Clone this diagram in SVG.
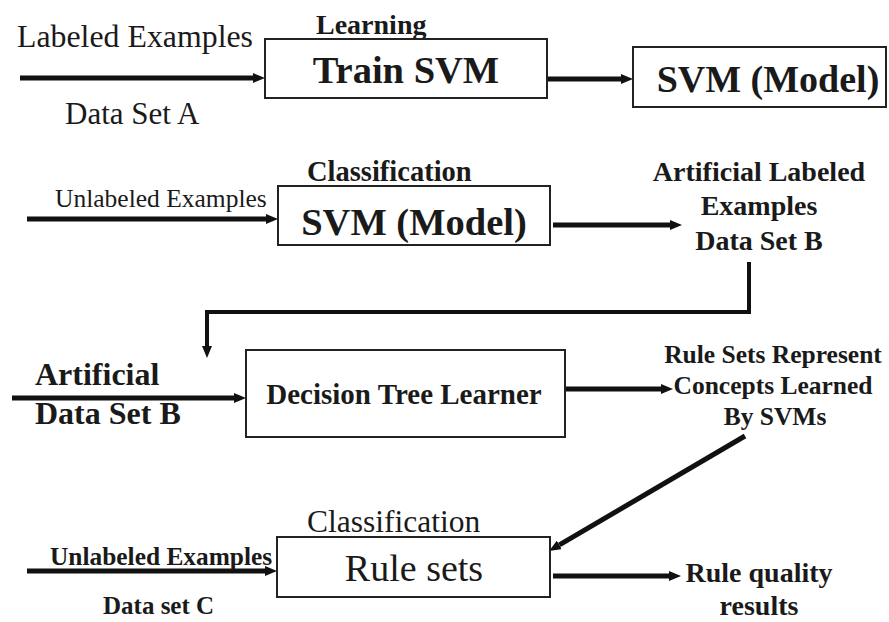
<svg xmlns="http://www.w3.org/2000/svg" width="889" height="622" viewBox="0 0 889 622">
<style>
text{font-family:"Liberation Serif","Times New Roman",serif;fill:#1a1a1a}
.b{font-weight:bold}
.box{fill:#fff;stroke:#222;stroke-width:2}
.ar{fill:none;stroke:#111;stroke-width:5}
.ar4{fill:none;stroke:#111;stroke-width:4}
</style>
<defs>
<marker id="ah" viewBox="0 -5 12 10" refX="0" refY="0" markerWidth="12" markerHeight="10" markerUnits="userSpaceOnUse" orient="auto">
<path d="M0,-5 L12,0 L0,5 z" fill="#111"/>
</marker>
</defs>
<rect width="889" height="622" fill="#fff"/>
<g id="connectors">
<line class="ar" x1="20" y1="78" x2="253" y2="78" marker-end="url(#ah)"/>
<line class="ar" x1="544" y1="79" x2="621" y2="79" marker-end="url(#ah)"/>
<line class="ar" x1="27" y1="219" x2="266" y2="219" marker-end="url(#ah)"/>
<line class="ar" x1="553" y1="225" x2="670" y2="225" marker-end="url(#ah)"/>
<path class="ar4" d="M749,262 V312 H207 V346" marker-end="url(#ah)"/>
<line class="ar" x1="12" y1="398" x2="234" y2="398" marker-end="url(#ah)"/>
<line class="ar" x1="563" y1="389" x2="661" y2="389" marker-end="url(#ah)"/>
<line class="ar" x1="745" y1="436" x2="559.4" y2="544.9" marker-end="url(#ah)"/>
<line class="ar" x1="27" y1="571" x2="265" y2="571" marker-end="url(#ah)"/>
<line class="ar" x1="553" y1="576" x2="669" y2="576" marker-end="url(#ah)"/>
</g>
<g id="labels">
<text x="17" y="47" font-size="31" textLength="236" lengthAdjust="spacingAndGlyphs">Labeled Examples</text>
<text x="65" y="124" font-size="31">Data Set A</text>
<text x="55" y="207" font-size="25.5">Unlabeled Examples</text>
<text x="759" y="181" font-size="28" class="b" text-anchor="middle">Artificial Labeled</text>
<text x="759" y="215" font-size="28" class="b" text-anchor="middle">Examples</text>
<text x="759" y="250" font-size="28" class="b" text-anchor="middle">Data Set B</text>
<text x="35" y="385" font-size="32" class="b">Artificial</text>
<text x="35" y="424" font-size="32" class="b">Data Set B</text>
<text x="773" y="363" font-size="25.5" class="b" text-anchor="middle">Rule Sets Represent</text>
<text x="773" y="394" font-size="25.5" class="b" text-anchor="middle">Concepts Learned</text>
<text x="775" y="425" font-size="25.5" class="b" text-anchor="middle">By SVMs</text>
<text x="50" y="565" font-size="25.4" class="b">Unlabeled Examples</text>
<text x="103" y="614" font-size="25" class="b">Data set C</text>
<text x="759" y="582" font-size="28" class="b" text-anchor="middle">Rule quality</text>
<text x="759" y="615" font-size="28" class="b" text-anchor="middle">results</text>
</g>
<g id="train-svm">
<text x="316" y="34" font-size="28" class="b">Learning</text>
<rect class="box" x="265" y="39" width="282" height="59"/>
<text x="406" y="83" font-size="38.5" class="b" text-anchor="middle">Train SVM</text>
</g>
<g id="svm-model-1">
<rect class="box" x="633" y="47" width="253" height="60"/>
<text x="768" y="92" font-size="38" class="b" text-anchor="middle">SVM (Model)</text>
</g>
<g id="svm-model-2">
<text x="307" y="181" font-size="28.5" class="b">Classification</text>
<rect class="box" x="278" y="186" width="272" height="59"/>
<text x="414" y="235" font-size="38.5" class="b" text-anchor="middle">SVM (Model)</text>
</g>
<g id="decision-tree">
<rect class="box" x="246" y="350" width="319" height="87"/>
<text x="404" y="404" font-size="29" class="b" text-anchor="middle">Decision Tree Learner</text>
</g>
<g id="rule-sets">
<text x="307" y="532" font-size="31.5">Classification</text>
<rect class="box" x="277" y="537" width="273" height="60"/>
<text x="414" y="581" font-size="38" text-anchor="middle">Rule sets</text>
</g>
</svg>
